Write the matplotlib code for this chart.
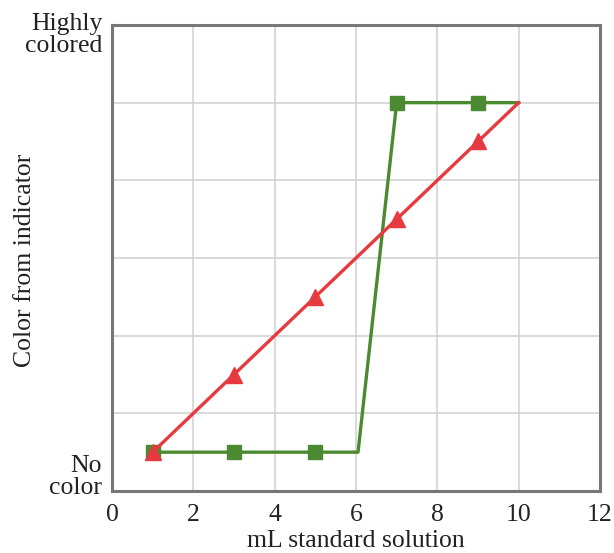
import matplotlib
matplotlib.use("Agg")
import matplotlib.pyplot as plt

plt.rcParams['font.family'] = ['Liberation Serif', 'DejaVu Serif']

# Data
red_x = [1, 3, 5, 7, 9, 10]
red_y = [0.5, 1.5, 2.5, 3.5, 4.5, 5.0]
green_x = [1, 3, 5, 6.05, 7, 9, 10]
green_y = [0.5, 0.5, 0.5, 0.5, 5.0, 5.0, 5.0]
x_ticks = [0, 2, 4, 6, 8, 10, 12]

red = "#e63a40"
green = "#4b8a30"
frame = "#77777b"
ink = "#222222"
fs = 18.5

fig = plt.figure(figsize=(6.14, 5.53), dpi=100)
ax = fig.add_axes([0.1824, 0.1121, 0.7948, 0.8427])

ax.plot(green_x, green_y, color=green, lw=2.4, marker='s', markersize=9.5,
        markevery=[0, 1, 2, 4, 5], zorder=3)
ax.plot(red_x, red_y, color=red, lw=2.4, marker='^', markersize=11,
        markevery=[0, 1, 2, 3, 4], zorder=4)

ax.set_xlim(0, 12)
ax.set_ylim(0, 6)
ax.set_xticks(x_ticks)
ax.set_yticks(range(0, 7))
ax.set_yticklabels([])
ax.tick_params(length=0, labelsize=fs, pad=9, colors=ink)
ax.grid(True, color="#d0d0d0", lw=1.1)
ax.set_axisbelow(True)
for s in ax.spines.values():
    s.set_color(frame)
    s.set_linewidth(2.2)

ax.set_xlabel("mL standard solution", fontsize=fs, labelpad=3, color=ink)
fig.text(25 / 614, 1 - 260 / 553, "Color from indicator", rotation=90,
         ha='center', va='center', fontsize=fs, color=ink)

ax.text(-0.02, 0.978, "Highly\ncolored", transform=ax.transAxes, ha='right', va='center',
        fontsize=fs, linespacing=1.0, color=ink)
ax.text(-0.02, 0.03, "No\ncolor", transform=ax.transAxes, ha='right', va='center',
        fontsize=fs, linespacing=1.0, color=ink)

fig.savefig("out.png", dpi=100)
